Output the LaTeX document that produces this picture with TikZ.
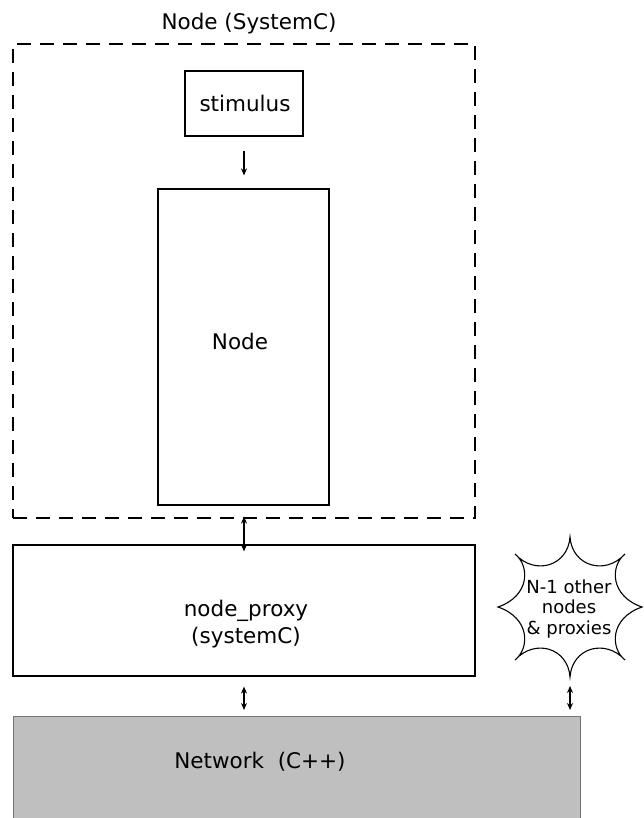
\documentclass[tikz,border=0pt]{standalone}
\usepackage{fontspec}
\setmainfont{DejaVu Sans}
\usetikzlibrary{arrows.meta}
\begin{document}
\begin{tikzpicture}[x=1pt,y=-1pt,
  box/.style={draw=black,line width=1.2pt,inner sep=0pt,fill=white},
  lbl/.style={font=\fontsize{21.5}{27}\selectfont,align=center,inner sep=0pt},
  small/.style={font=\fontsize{18}{20.5}\selectfont,align=center,inner sep=0pt},
  arr/.style={line width=1.1pt,-{Stealth[length=7pt,width=6pt]}},
  darr/.style={line width=1.1pt,{Stealth[length=7pt,width=6pt]}-{Stealth[length=7pt,width=6pt]}}]
\clip (0,0) rectangle (644,818);
\fill[white] (0,0) rectangle (644,818);
% outer dashed box
\node[draw=black,line width=1.1pt,dash pattern=on 14pt off 9pt,minimum width=462pt,minimum height=474pt,inner sep=0pt] (outer) at (244,281) {};
\node[lbl] (title) at (249,24) {Node (SystemC)};
% stimulus
\node[box,minimum width=118pt,minimum height=65pt] (stim) at (244,103.5) {};
\node[lbl] (stimtxt) at (245,103) {stimulus};
% node box
\node[box,minimum width=171pt,minimum height=316pt] (nodebox) at (243.5,347) {};
\node[lbl] (nodetxt) at (240,341) {Node};
% proxy
\node[box,minimum width=462pt,minimum height=131pt] (proxy) at (244,610.5) {};
\node[lbl] (proxytxt) at (246,624) {node\_proxy\\(systemC)};
% network
\node[draw=black!55,line width=1.2pt,fill=black!25,minimum width=567pt,minimum height=130pt,inner sep=0pt,anchor=north west] (net) at (13,716) {};
\node[lbl] (nettxt) at (260,762) {Network\ \ (C++)};
% star
\coordinate (sb) at (570,677);
\draw[line width=1.1pt,fill=white]
  (570,537) .. controls (572,566) and (605,576) .. (625,554)
  .. controls (610,566) and (610,596) .. (642,607)
  .. controls (610,618) and (610,648) .. (625,660)
  .. controls (605,638) and (572,648) .. (sb)
  .. controls (568,648) and (535,638) .. (515,660)
  .. controls (530,648) and (530,618) .. (498,607)
  .. controls (530,596) and (530,566) .. (515,554)
  .. controls (535,576) and (568,566) .. cycle;
\node[small] (startxt) at (569,609) {N-1 other\\nodes\\ \& proxies};
% connectors
\draw[arr,shorten <=14pt,shorten >=13pt] (stim.south) -- (stim.south |- nodebox.north);
\draw[darr,shorten <=11pt,shorten >=-7pt] (nodebox.south -| 244,0) -- (proxy.north -| 244,0);
\draw[darr,shorten <=10pt,shorten >=6pt] (proxy.south -| 244,0) -- (net.north -| 244,0);
\draw[darr,shorten <=9pt,shorten >=6pt] (sb) -- (net.north -| sb);
\end{tikzpicture}
\end{document}
